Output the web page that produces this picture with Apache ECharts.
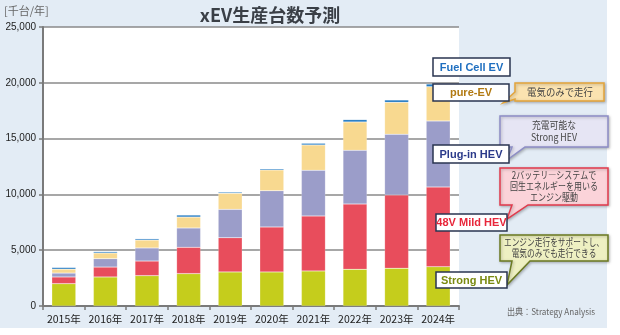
<!DOCTYPE html>
<html>
<head>
<meta charset="utf-8">
<script src="https://cdn.jsdelivr.net/npm/echarts@6/dist/echarts.min.js"></script>
<style>
html,body{margin:0;padding:0;background:#fff;}
#c{width:620px;height:335px;}
</style>
</head>
<body>
<div id="c"></div>
<script>
const years = ['2015年','2016年','2017年','2018年','2019年','2020年','2021年','2022年','2023年','2024年'];
const strongHEV = [2000, 2600, 2720, 2900, 3050, 3050, 3140, 3290, 3380, 3520];
const mildHEV   = [600, 890, 1310, 2360, 3070, 4030, 4930, 5850, 6570, 7140];
const plugInHEV = [350, 750, 1170, 1730, 2540, 3250, 4090, 4810, 5440, 5920];
const pureEV    = [350, 510, 710, 980, 1440, 1860, 2270, 2540, 2860, 3070];
const fuelCell  = [150, 120, 120, 180, 100, 110, 150, 210, 210, 240];
const yTicks = { min: 0, max: 25000, interval: 5000 };

const chart = echarts.init(document.getElementById('c'), null, {renderer:'canvas'});
const jp = '"Noto Sans CJK JP", "Noto Sans", sans-serif';
const lat = '"Liberation Sans", Arial, sans-serif';

function bubble(x1, y1, x2, y2, tail, fill, stroke) {
  return {
    type: 'polygon',
    shape: { points: [[x1,y1],[x2,y1],[x2,y2]].concat(tail.bottom ? [[tail.b2[0],y2],tail.tip,[tail.b1[0],y2],[x1,y2]] : [[x1,y2],[x1,tail.b2[1]],tail.tip,[x1,tail.b1[1]]]) },
    style: { fill: fill, stroke: stroke, lineWidth: 1.5, shadowBlur: 3, shadowColor: 'rgba(0,0,0,0.25)', shadowOffsetX: 1, shadowOffsetY: 1 },
    z: 10
  };
}
function btext(x, y, txt, sx, lh) {
  return { type: 'text', x: x, y: y, z: 11, scaleX: sx,
    style: { text: txt, fill: '#444', font: '10px ' + jp, textAlign: 'center', textVerticalAlign: 'middle', lineHeight: lh || 11 } };
}
function labelBox(x1, y1, x2, y2, txt, color) {
  return [
    { type: 'rect', shape: { x: x1, y: y1, width: x2 - x1, height: y2 - y1 }, z: 10,
      style: { fill: '#fff', stroke: '#2a3550', lineWidth: 1.5 } },
    { type: 'text', x: (x1 + x2) / 2, y: (y1 + y2) / 2 + 0.5, z: 11,
      style: { text: txt, fill: color, font: 'bold 11px ' + lat, textAlign: 'center', textVerticalAlign: 'middle' } }
  ];
}

const graphics = [
  { type: 'rect', shape: { x: 0, y: 0, width: 607, height: 328 }, z: -10, style: { fill: '#e3ecf5' } },
  { type: 'rect', shape: { x: 43, y: 27, width: 416, height: 279 }, z: -9, style: { fill: '#ffffff' } },
  { type: 'text', x: 270, y: 15, z: 5, style: { text: 'xEV生産台数予測', fill: '#3a3f46', font: 'bold 18px ' + jp, textAlign: 'center', textVerticalAlign: 'middle' } },
  { type: 'text', x: 4, y: 11, z: 5, style: { text: '[千台/年]', fill: '#666', font: '11px ' + jp, textAlign: 'left', textVerticalAlign: 'middle' } },
  { type: 'text', x: 551, y: 312, z: 5, scaleX: 0.9, style: { text: '出典：Strategy Analysis', fill: '#666', font: '9px ' + jp, textAlign: 'center', textVerticalAlign: 'middle' } },

  bubble(515, 83, 604, 101, { bottom: false, b1: [515, 92], tip: [503, 103], b2: [515, 99] }, '#fbe3b0', '#e3a43a'),
  btext(560, 92, '電気のみで走行', 0.94),
  bubble(500, 116, 608, 147, { bottom: true, b1: [512, 147], tip: [507, 160], b2: [525, 147] }, '#e6e5f4', '#8d8dc6'),
  btext(554, 131.5, '充電可能な\nStrong HEV', 0.88, 12),
  bubble(500, 168, 608, 205, { bottom: true, b1: [512, 205], tip: [507, 219], b2: [528, 205] }, '#fbd3d9', '#e23a4c'),
  btext(554, 186.5, '2バッテリ―システムで\n回生エネルギーを用いる\nエンジン駆動', 0.8),
  bubble(500, 235, 608, 261, { bottom: true, b1: [512, 261], tip: [507, 285], b2: [530, 261] }, '#eef0c2', '#6b7a22'),
  btext(554, 248, 'エンジン走行をサポートし、\n電気のみでも走行できる', 0.77)
].concat(
  labelBox(433, 58, 510, 76, 'Fuel Cell EV', '#1f6fc0'),
  labelBox(433, 84, 509, 101, 'pure-EV', '#b27a12'),
  labelBox(433, 145, 509, 163, 'Plug-in HEV', '#2b3a8a'),
  labelBox(436, 214, 507, 231, '48V Mild HEV', '#e8263a'),
  labelBox(436, 272, 507, 288, 'Strong HEV', '#7a8a10')
);

function barSeries(name, data, color) {
  return { name: name, type: 'bar', stack: 'total', data: data, barWidth: 24,
    itemStyle: { color: color, borderColor: 'rgba(255,255,255,0.35)', borderWidth: 0.5 },
    emphasis: { disabled: true }, animation: false };
}

chart.setOption({
  animation: false,
  backgroundColor: 'transparent',
  grid: { left: 43, top: 27, right: 161, bottom: 29, containLabel: false },
  xAxis: {
    type: 'category', data: years,
    axisLine: { lineStyle: { color: '#7a7a7a', width: 2 } },
    axisTick: { show: true, length: 4, interval: 0, lineStyle: { color: '#7a7a7a', width: 1.5 } },
    axisLabel: { color: '#222', fontSize: 10.5, fontFamily: jp, margin: 8, interval: 0 }
  },
  yAxis: {
    type: 'value', min: yTicks.min, max: yTicks.max, interval: yTicks.interval,
    axisLine: { show: true, lineStyle: { color: '#7a7a7a', width: 2 } },
    axisTick: { show: true, length: 4, lineStyle: { color: '#7a7a7a', width: 1.5 } },
    splitLine: { lineStyle: { color: '#8a8a8a', width: 1.5 } },
    axisLabel: { color: '#222', fontSize: 10, fontFamily: lat, margin: 7,
      formatter: v => v.toLocaleString('en-US') }
  },
  series: [
    barSeries('Strong HEV', strongHEV, '#c5cd1c'),
    barSeries('48V Mild HEV', mildHEV, '#e84d5c'),
    barSeries('Plug-in HEV', plugInHEV, '#9b9dc9'),
    barSeries('pure-EV', pureEV, '#f8d990'),
    barSeries('Fuel Cell EV', fuelCell, '#2179c2')
  ],
  graphic: graphics
});
</script>
</body>
</html>
